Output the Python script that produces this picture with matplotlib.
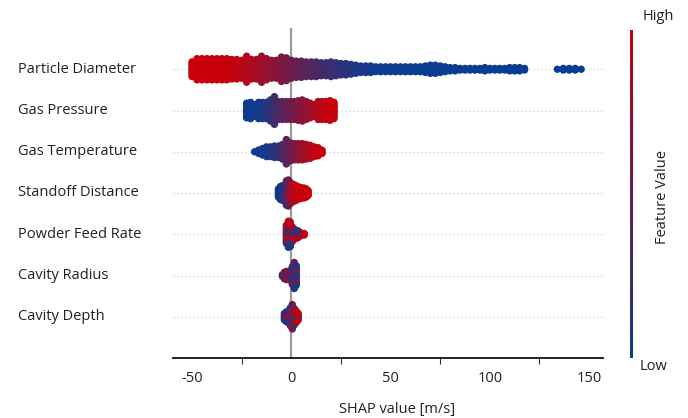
import numpy as np
import matplotlib
matplotlib.use("Agg")
import matplotlib.pyplot as plt
from matplotlib.colors import LinearSegmentedColormap
from matplotlib.transforms import blended_transform_factory
from matplotlib.ticker import FixedLocator

plt.rcParams['font.family'] = ['Open Sans', 'DejaVu Sans']

features = ["Particle Diameter", "Gas Pressure", "Gas Temperature",
            "Standoff Distance", "Powder Feed Rate", "Cavity Radius", "Cavity Depth"]

# ---- binned beeswarm data: bin SHAP value, number of dots in bin, feature value (0=low,1=high)
pd_x = [-50, -47.5, -45, -42.5, -40, -37.5, -35, -32.5, -30, -27.5, -25, -22.5, -20, -17.5,
        -15, -12.5, -10, -7.5, -5, -2.5, 0, 2.5, 5, 7.5, 10, 12.5, 15, 17.5, 20, 22.5, 25,
        27.5, 30, 32.5, 35, 37.5, 40, 42.5, 45, 47.5, 50, 52.5, 55, 57.5, 60, 62.5, 65, 67.5,
        70, 72.5, 75, 77.5, 80, 82.5, 85, 87.5, 90, 92.5, 95, 97.5, 100, 102.5, 105, 107.5,
        110, 112.5, 115, 117.5, 134, 137, 140, 143, 146]
pd_n = [10, 14, 14, 14, 14, 14, 14, 14, 13, 13, 12, 17, 13, 13,
        17, 14, 12, 12, 16, 15, 12, 11, 11, 10, 10, 10, 9, 9, 10, 9, 8,
        8, 7, 6, 5, 5, 5, 4, 4, 4, 4, 4, 4, 4, 4, 4, 4, 5,
        6, 6, 5, 4, 3, 3, 2, 2, 2, 2, 2, 3, 2, 2, 2, 2,
        3, 3, 3, 2, 1, 2, 2, 2, 1]
pd_v = [1.0, 1.0, 1.0, 1.0, 1.0, 1.0, 1.0, 1.0, 0.97, 0.95, 0.92, 0.88, 0.85, 0.82,
        0.78, 0.74, 0.70, 0.66, 0.62, 0.58, 0.54, 0.50, 0.46, 0.42, 0.38, 0.35, 0.32, 0.28, 0.25, 0.22, 0.19,
        0.16, 0.13, 0.10, 0.08, 0.06, 0.04, 0.03, 0.02, 0.02, 0.02, 0.02, 0.01, 0.01, 0.01, 0.01, 0.01, 0.01,
        0.01, 0.01, 0.01, 0.0, 0.0, 0.0, 0.0, 0.0, 0.0, 0.0, 0.0, 0.0, 0.0, 0.0, 0.0, 0.0,
        0.0, 0.0, 0.0, 0.0, 0.0, 0.0, 0.0, 0.0, 0.0]

gp_x = [-22.5, -20.5, -18.5, -16.5, -14.5, -12.5, -10.5, -8.5, -6.5, -4.5, -2.5, -0.5,
        1.5, 3.5, 5.5, 7.5, 9.5, 11.5, 13.5, 15.5, 17.5, 19.5, 21.5]
gp_n = [10, 11, 8, 11, 11, 11, 14, 18, 12, 12, 12, 12, 12, 13, 14, 12, 10, 8, 12, 12, 12, 13, 11]
gp_v = [0.02, 0.02, 0.03, 0.05, 0.07, 0.12, 0.20, 0.27, 0.33, 0.40, 0.45, 0.50,
        0.55, 0.60, 0.65, 0.70, 0.76, 0.82, 0.88, 0.93, 0.96, 0.98, 1.0]

gt_x = [-18.5, -16.5, -14.5, -12.5, -10.5, -8.5, -6.5, -4.5, -2.5, -0.5, 1.5, 3.5, 5.5,
        7.5, 9.5, 11.5, 13.5, 15.5]
gt_n = [1, 3, 5, 7, 7, 8, 8, 10, 16, 12, 11, 11, 11, 10, 9, 7, 6, 3]
gt_v = [0.02, 0.03, 0.05, 0.07, 0.10, 0.15, 0.22, 0.30, 0.42, 0.50, 0.58, 0.66, 0.74,
        0.82, 0.88, 0.93, 0.97, 1.0]

sd_x = [-6.5, -5.5, -4.5, -3.5, -3.5, -2.5, -2.5, -1.5, -1.5, -1.5, -0.5, -0.5, 0.5, 0.5,
        1.5, 2.5, 3.5, 4.5, 5.5, 6.5, 7.5, 8.5]
sd_n = [6, 9, 10, 7, 3, 8, 8, 9, 5, 3, 8, 6, 6, 6, 11, 10, 8, 8, 7, 7, 6, 4]
sd_v = [0.05, 0.05, 0.08, 0.10, 0.50, 0.10, 0.45, 0.50, 0.15, 0.85, 0.55, 0.80, 0.70, 0.90,
        0.90, 0.95, 1.0, 1.0, 1.0, 1.0, 1.0, 1.0]

pf_x = [-2.5, -2.5, -2.5, -1.5, -1.5, -1.5, -0.5, -0.5, -0.5, 0.5, 0.5, 0.5, 1.5, 1.5,
        2.5, 2.5, 3.5, 3.5, 4.5, 4.5, 5.5, 6.5]
pf_n = [4, 4, 4, 5, 6, 6, 5, 6, 5, 4, 4, 2, 4, 3, 3, 3, 3, 2, 2, 1, 1, 2]
pf_v = [0.10, 0.50, 0.90, 0.10, 0.50, 0.90, 0.10, 0.50, 0.90, 0.10, 0.90, 0.50, 0.90, 0.10,
        0.90, 0.10, 0.90, 0.10, 0.90, 0.50, 0.10, 1.0]

cr_x = [-4.5, -4.5, -3.5, -3.5, -2.5, -2.5, -1.5, -1.5, -0.5, -0.5, -0.5, 0.5, 0.5,
        1.5, 1.5, 2.5, 2.5]
cr_n = [1, 1, 3, 2, 3, 3, 3, 3, 3, 2, 2, 6, 6, 8, 9, 7, 6]
cr_v = [0.90, 0.10, 0.10, 0.90, 0.90, 0.10, 0.10, 0.90, 0.90, 0.10, 0.50, 0.50, 0.10,
        0.10, 0.50, 0.10, 0.50]

cd_x = [-3.5, -3.5, -2.5, -2.5, -1.5, -1.5, -1.5, -0.5, -0.5, -0.5, 0.5, 0.5, 0.5,
        1.5, 1.5, 1.5, 2.5, 2.5, 3.5, 3.5]
cd_n = [4, 1, 5, 2, 4, 2, 2, 5, 4, 3, 7, 5, 4, 4, 4, 3, 5, 3, 4, 1]
cd_v = [0.10, 0.50, 0.10, 0.50, 0.10, 0.50, 0.90, 0.55, 0.10, 0.85, 0.55, 0.75, 0.10,
        0.10, 0.50, 0.90, 0.90, 0.10, 0.95, 0.50]

rows = [(pd_x, pd_n, pd_v), (gp_x, gp_n, gp_v), (gt_x, gt_n, gt_v), (sd_x, sd_n, sd_v),
        (pf_x, pf_n, pf_v), (cr_x, cr_n, cr_v), (cd_x, cd_n, cd_v)]

xticks_major = [-50, 0, 50, 100, 150]
xticks_minor = [-25, 25, 75, 125]

cmap = LinearSegmentedColormap.from_list("fv", ["#0b3c91", "#c8000c"])

W, H = 688, 418
fig = plt.figure(figsize=(W / 100, H / 100), dpi=100)
ax = fig.add_axes([173 / W, 1 - 358 / H, (603 - 173) / W, (358 - 28) / H])
nrow = len(features)
ax.set_ylim(-1, nrow)
ax.set_xlim(-59.6, 157)

DY = 0.0395  # vertical dot spacing in row units
CHUNK = 3    # dots of one colour group placed together when mixing


def swarm(xs, ns, vs):
    groups = {}
    for x, n, v in zip(xs, ns, vs):
        groups.setdefault(x, []).append([n, v])
    px, py, pc = [], [], []
    for x in sorted(groups):
        ent = [list(e) for e in groups[x]]
        cols = []
        while any(e[0] > 0 for e in ent):
            for e in ent:
                take = min(CHUNK, e[0])
                cols.extend([e[1]] * take)
                e[0] -= take
        tot = len(cols)
        offs = (np.arange(tot) - (tot - 1) / 2) * DY
        px.extend([x] * tot)
        py.extend(offs)
        pc.extend(cols)
    return np.array(px), np.array(py), np.array(pc)


for i, (xs, ns, vs) in enumerate(rows):
    yc = nrow - 1 - i
    ax.axhline(yc, color="#cfcfcf", lw=0.9, dashes=(1, 2.2), zorder=-2)
    px, py, pc = swarm(xs, ns, vs)
    ax.scatter(px, yc + py, c=pc, cmap=cmap, vmin=0, vmax=1, s=28,
               linewidths=0, zorder=2)

ax.axvline(0, color="#9a9a9a", lw=1.6, zorder=-1)

for s in ["top", "left", "right"]:
    ax.spines[s].set_visible(False)
ax.spines["bottom"].set_linewidth(1.3)
ax.spines["bottom"].set_color("#111111")
ax.set_yticks([])
ax.xaxis.set_major_locator(FixedLocator(xticks_major))
ax.xaxis.set_minor_locator(FixedLocator(xticks_minor))
ax.set_xticklabels([str(t) for t in xticks_major])
ax.tick_params(axis="x", which="major", length=0, pad=9, labelsize=10.5, labelcolor="#222222")
ax.tick_params(axis="x", which="minor", length=4, width=0.8, color="#333333")

tr = blended_transform_factory(fig.transFigure, ax.transData)
for i, name in enumerate(features):
    ax.text(18 / W, nrow - 1 - i, name, transform=tr, ha="left", va="center",
            fontsize=10.5, color="#222222")

fig.text(397 / W, 1 - 409 / H, "SHAP value [m/s]", ha="center", va="center",
         fontsize=10.5, color="#222222")

# colorbar
cax = fig.add_axes([629.5 / W, 1 - 358 / H, 3 / W, (358 - 30) / H])
grad = np.linspace(0, 1, 256).reshape(-1, 1)
cax.imshow(grad, aspect="auto", cmap=cmap, origin="lower", extent=(0, 1, 0, 1))
cax.set_axis_off()
fig.text(643 / W, 1 - 17 / H, "High", ha="left", va="center", fontsize=10.5, color="#222222")
fig.text(640 / W, 1 - 366 / H, "Low", ha="left", va="center", fontsize=10.5, color="#222222")
fig.text(663 / W, 1 - 197 / H, "Feature Value", ha="center", va="center", rotation=90,
         fontsize=10.5, color="#222222")

fig.savefig("out.png", dpi=100)
